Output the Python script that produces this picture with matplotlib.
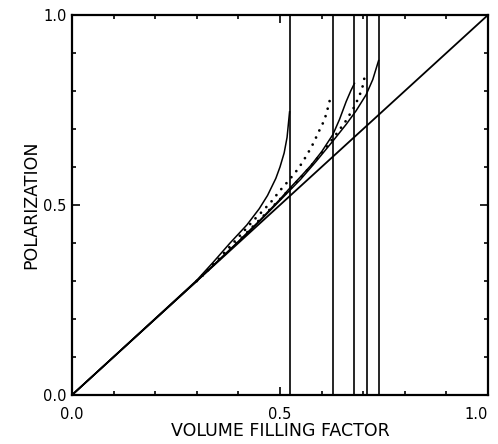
import numpy as np
from matplotlib import pyplot as plt
from matplotlib.ticker import MultipleLocator

# packing limits (vertical lines)
limits = [0.523, 0.628, 0.679, 0.710, 0.737]

# solid curve ending at the simple cubic limit
sc_x = [0.0, 0.30, 0.34, 0.38, 0.42, 0.45, 0.47, 0.49, 0.50, 0.51, 0.517, 0.523]
sc_y = [0.0, 0.302, 0.35, 0.40, 0.447, 0.49, 0.525, 0.57, 0.60, 0.637, 0.678, 0.745]

# solid curve ending at 0.68
a_x = [0.0, 0.30, 0.40, 0.45, 0.50, 0.52, 0.55, 0.575, 0.60, 0.627, 0.643, 0.659, 0.67, 0.679]
a_y = [0.0, 0.30, 0.404, 0.458, 0.515, 0.54, 0.575, 0.605, 0.64, 0.685, 0.725, 0.772, 0.80, 0.82]

# solid curve ending at 0.74
b_x = [0.0, 0.30, 0.40, 0.45, 0.50, 0.55, 0.587, 0.627, 0.659, 0.683, 0.707, 0.723, 0.737]
b_y = [0.0, 0.30, 0.403, 0.456, 0.512, 0.568, 0.615, 0.668, 0.712, 0.748, 0.79, 0.83, 0.88]

# dotted curves
d1_x = [0.30, 0.35, 0.40, 0.435, 0.46, 0.48, 0.50, 0.52, 0.545, 0.565, 0.58, 0.595, 0.607, 0.615, 0.623]
d1_y = [0.30, 0.355, 0.415, 0.458, 0.486, 0.51, 0.538, 0.563, 0.597, 0.632, 0.662, 0.697, 0.724, 0.755, 0.79]

d2_x = [0.30, 0.40, 0.45, 0.50, 0.52, 0.55, 0.58, 0.61, 0.637, 0.657, 0.667, 0.678, 0.687, 0.697, 0.706]
d2_y = [0.30, 0.405, 0.46, 0.515, 0.538, 0.572, 0.61, 0.65, 0.689, 0.719, 0.737, 0.757, 0.778, 0.804, 0.85]

diag = [0.0, 1.0]
ticks = [0.0, 0.5, 1.0]
tick_labels = ['0.0', '0.5', '1.0']

fig = plt.figure(figsize=(4.98, 4.44), dpi=100)
ax = fig.add_axes([0.1446, 0.1104, 0.8353, 0.8559])

ax.plot(diag, diag, color='k', linewidth=1.3)
for xv in limits:
    ax.axvline(xv, color='k', linewidth=1.2)
for xs, ys in [(sc_x, sc_y), (a_x, a_y), (b_x, b_y)]:
    ax.plot(xs, ys, color='k', linewidth=1.1)
for xs, ys in [(d1_x, d1_y), (d2_x, d2_y)]:
    ax.plot(xs, ys, color='k', linewidth=2.0, linestyle=(0, (0.01, 2.8)),
            dash_capstyle='round')

ax.set_xlim(0, 1)
ax.set_ylim(0, 1)
ax.set_xticks(ticks, tick_labels)
ax.set_yticks(ticks, tick_labels)
ax.xaxis.set_minor_locator(MultipleLocator(0.1))
ax.yaxis.set_minor_locator(MultipleLocator(0.1))
ax.tick_params(which='both', direction='in', top=True, right=True, width=1.2)
ax.tick_params(which='major', length=6, labelsize=10.5)
ax.tick_params(which='minor', length=3)
ax.tick_params(axis='x', which='major', pad=9)
ax.tick_params(axis='y', which='major', pad=4)
for s in ax.spines.values():
    s.set_linewidth(1.6)

# keep the last x label inside the figure
ax.get_xticklabels()[-1].set_horizontalalignment('right')

ax.set_xlabel('VOLUME FILLING FACTOR', fontsize=12.5, labelpad=0)
ax.set_ylabel('POLARIZATION', fontsize=12.5, labelpad=2)

fig.savefig('out.png', dpi=100)
